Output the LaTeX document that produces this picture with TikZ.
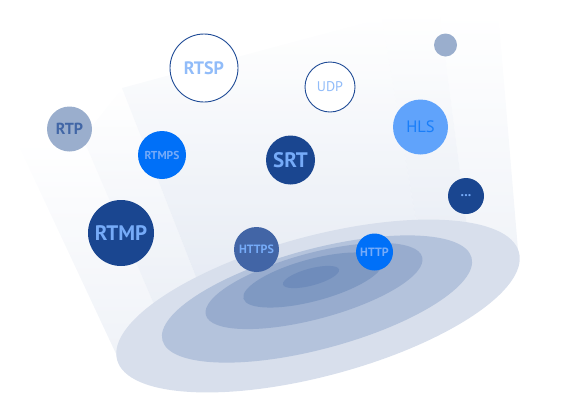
\documentclass[tikz,border=0pt]{standalone}
\usepackage{fontspec}
\setmainfont{PT Sans}
\definecolor{navy}{HTML}{1A4690}
\definecolor{brightblue}{HTML}{0070F8}
\definecolor{skyblue}{HTML}{60A3FB}
\definecolor{greyblue}{HTML}{9AAECD}
\definecolor{midblue}{HTML}{4265A6}
\definecolor{ringblue}{HTML}{1F4B96}
\definecolor{labelblue}{HTML}{76ABF8}
\definecolor{beamblue}{HTML}{DCE3EF}
\definecolor{ringa}{HTML}{D8DFEC}
\definecolor{ringb}{HTML}{B4C3DC}
\definecolor{ringc}{HTML}{98ACCE}
\definecolor{ringd}{HTML}{7F99C2}
\definecolor{ringe}{HTML}{6F8CBB}
\begin{document}
\begin{tikzpicture}[x=1pt,y=-1pt,
    disc/.style={circle, inner sep=0pt, text=labelblue, font=\bfseries},
    darkdisc/.style={disc, fill=navy},
    brightdisc/.style={disc, fill=brightblue},
    ringdisc/.style={disc, fill=white, draw=ringblue, line width=0.9pt, text=labelblue!80!white},
    greydisc/.style={disc, fill=greyblue, text=ringblue!85!white},
    beam/.style={top color=white, bottom color=beamblue, fill opacity=0.75}]
    \useasboundingbox (0,0) rectangle (580,400);

    % Draw light beams
    \shade[beam, fill opacity=0.45] (15,138) -- (83,138) -- (165,330) -- (118,358) -- cycle;
    \shade[beam, fill opacity=0.6] (83,138) -- (122,88) -- (205,300) -- (165,330) -- cycle;
    \shade[beam] (122,88) -- (382,18) -- (418,233) -- (205,300) -- cycle;
    \shade[beam, fill opacity=0.6] (382,18) -- (440,15) -- (468,235) -- (418,233) -- cycle;
    \shade[beam, fill opacity=0.4] (440,15) -- (498,10) -- (518,250) -- (468,235) -- cycle;

    % Draw the rings at the bottom
    \fill[color=ringa] (318,306) ellipse [x radius=208, y radius=70, rotate=15];
    \fill[color=ringb] (317,299) ellipse [x radius=160, y radius=50, rotate=15];
    \fill[color=ringc] (314,286) ellipse [x radius=112, y radius=33, rotate=15];
    \fill[color=ringd] (313,280) ellipse [x radius=72, y radius=21, rotate=15];
    \fill[color=ringe] (311,277) ellipse [x radius=29, y radius=8.5, rotate=15];

    % Protocol bubbles
    \node[ringdisc, minimum size=68pt, font=\bfseries\fontsize{18}{18}\selectfont] (rtsp) at (204,68) {RTSP};
    \node[ringdisc, minimum size=50pt, font=\fontsize{14}{14}\selectfont] (udp) at (330,87) {UDP};
    \node[greydisc, minimum size=45pt, font=\bfseries\fontsize{16}{16}\selectfont] (rtp) at (69.5,129) {RTP};
    \node[brightdisc, minimum size=48pt, font=\bfseries\fontsize{11.5}{11.5}\selectfont] (rtmps) at (162,155) {RTMPS};
    \node[darkdisc, minimum size=49pt, font=\bfseries\fontsize{21}{21}\selectfont] (srt) at (290.5,160) {SRT};
    \node[greydisc, minimum size=23pt] (dot) at (445.5,45) {};
    \node[disc, fill=skyblue, text=brightblue!90!white, minimum size=55pt, font=\fontsize{16.5}{16.5}\selectfont] (hls) at (420.5,127) {HLS};
    \node[darkdisc, minimum size=36pt, font=\bfseries\fontsize{14}{14}\selectfont] (more) at (466,196) {...};
    \node[darkdisc, minimum size=66pt, font=\bfseries\fontsize{21}{21}\selectfont] (rtmp) at (121,233) {RTMP};
    \node[disc, fill=midblue, minimum size=45pt, font=\bfseries\fontsize{12}{12}\selectfont] (https) at (256.5,249.5) {HTTPS};
    \node[brightdisc, minimum size=37pt, font=\bfseries\fontsize{12}{12}\selectfont] (http) at (374.5,252) {HTTP};
\end{tikzpicture}
\end{document}
